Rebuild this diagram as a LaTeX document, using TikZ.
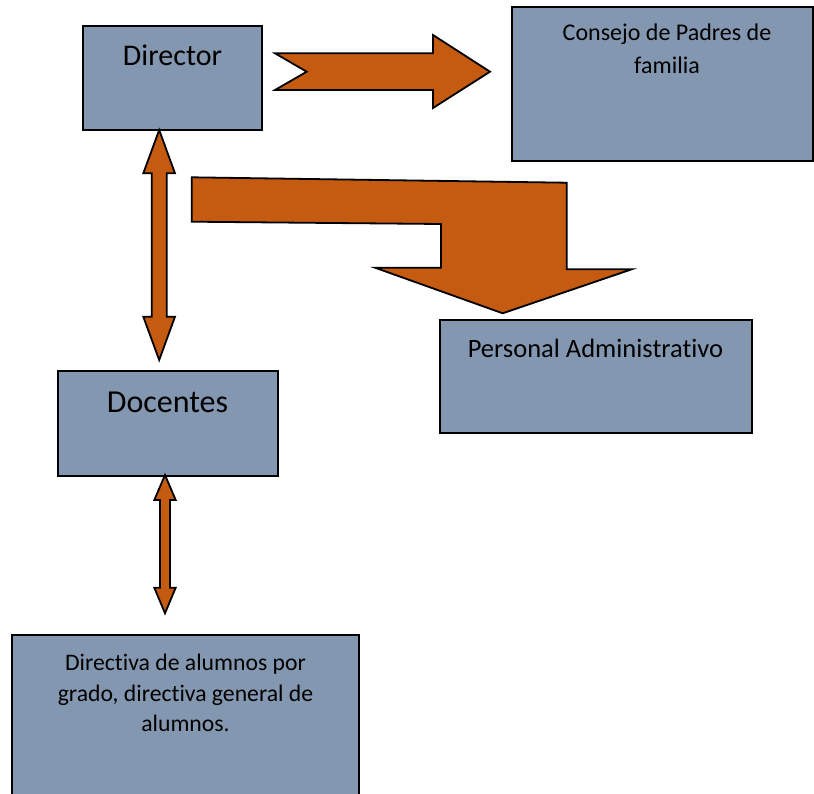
\documentclass[tikz,border=0pt]{standalone}
\usepackage{fontspec}
\setmainfont[Ligatures={NoCommon}]{Carlito}
\definecolor{boxfill}{HTML}{8497B0}
\definecolor{arrowfill}{HTML}{C55A11}
\begin{document}
\begin{tikzpicture}[x=1pt,y=-1pt,
  box/.style={draw=black, line width=2pt, fill=boxfill, rectangle, inner sep=0pt},
  blockarrow/.style={draw=black, line width=1.8pt, fill=arrowfill, line join=miter},
  lbl/.style={anchor=base, inner sep=0pt, text=black}]
\clip (0,0) rectangle (814,793);
\fill[white] (0,0) rectangle (814,793);
% boxes
\node[box, minimum width=179pt, minimum height=104pt] (director) at (172.5,77.5) {};
\node[box, minimum width=301pt, minimum height=154pt] (consejo) at (662,84) {};
\node[box, minimum width=312pt, minimum height=113pt] (personal) at (595.5,376.5) {};
\node[box, minimum width=220pt, minimum height=105pt] (docentes) at (167.5,423.5) {};
\node[box, minimum width=347pt, minimum height=175pt] (directiva) at (185.5,722.5) {};
% labels
\node[lbl, font=\fontsize{30}{32}\selectfont] (tdirector) at (172.5,65) {Director};
\node[lbl, font=\fontsize{24}{26}\selectfont] (tconsejo1) at (667,40) {Consejo de Padres de};
\node[lbl, font=\fontsize{24}{26}\selectfont] (tconsejo2) at (667,73) {familia};
\node[lbl, font=\fontsize{26.5}{28}\selectfont] (tpersonal) at (595.5,357) {Personal Administrativo};
\node[lbl, font=\fontsize{32}{34}\selectfont] (tdocentes) at (167.5,412) {Docentes};
\node[lbl, font=\fontsize{23.7}{26}\selectfont] (tdir1) at (185.5,670) {Directiva de alumnos por};
\node[lbl, font=\fontsize{23.7}{26}\selectfont] (tdir2) at (185.5,701) {grado, directiva general de};
\node[lbl, font=\fontsize{23.7}{26}\selectfont] (tdir3) at (185.5,731.5) {alumnos.};
% notched arrow Director -> Consejo
\draw[blockarrow] (275,53.3) -- (433,53.3) -- (433,35) -- (490,71.7) -- (433,108) -- (433,90) -- (275,90) -- (306.7,71.7) -- cycle;
% bent arrow Director -> Personal
\draw[blockarrow] (191.7,177.3) -- (566.7,182.7) -- (566.7,269.3) -- (631.7,269.3) -- (502.7,313.3) -- (375,267.7) -- (441,267.7) -- (441,224) -- (191.7,221.7) -- cycle;
% double arrow Director <-> Docentes
\draw[blockarrow] (159.2,130) -- (175,173.3) -- (166.7,173.3) -- (166.7,316.7) -- (175,316.7) -- (159.2,360) -- (143.3,316.7) -- (151.7,316.7) -- (151.7,173.3) -- (143.3,173.3) -- cycle;
% double arrow Docentes <-> Directiva
\draw[blockarrow] (165,475) -- (175.7,500) -- (170,500) -- (170,587.7) -- (175.7,587.7) -- (165,613.3) -- (154.3,587.7) -- (160,587.7) -- (160,500) -- (154.3,500) -- cycle;
\end{tikzpicture}
\end{document}
